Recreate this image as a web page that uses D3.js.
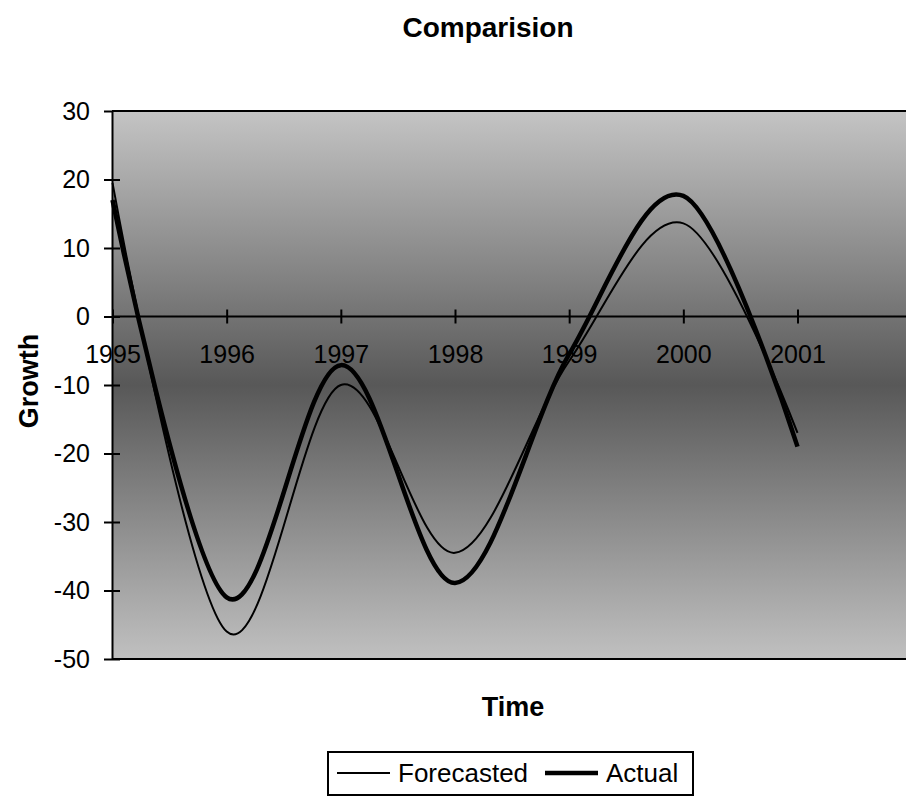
<!DOCTYPE html>
<html>
<head>
<meta charset="utf-8">
<script src="https://d3js.org/d3.v7.min.js"></script>
<style>
  body { margin: 0; background: #fff; }
  svg { display: block; font-family: "Liberation Sans", Arial, sans-serif; }
  .axis .domain { stroke: #000; stroke-width: 2px; }
  .axis line { stroke: #000; stroke-width: 2px; }
  .axis text { font-size: 25px; fill: #000; }
</style>
</head>
<body>
<script>
// values
const years = ["1995", "1996", "1997", "1998", "1999", "2000", "2001"];
const forecasted = [19.5, -46, -10, -34.5, -6.5, 13.6, -17];
const actual = [17, -41, -7.1, -38.9, -5.5, 17.6, -19];
const yTicks = [-50, -40, -30, -20, -10, 0, 10, 20, 30];

const width = 906, height = 796;
const plot = {left: 112, top: 111, right: 906, bottom: 659};

const svg = d3.select("body").append("svg")
    .attr("width", width)
    .attr("height", height);

const x = d3.scalePoint()
    .domain(years)
    .range([112.5, 797.5]);

const y = d3.scaleLinear()
    .domain([-50, 30])
    .range([plot.bottom, plot.top]);

// background gradient
const grad = svg.append("defs").append("linearGradient")
    .attr("id", "bg")
    .attr("x1", 0).attr("y1", 0).attr("x2", 0).attr("y2", 1);
grad.append("stop").attr("offset", "0%").attr("stop-color", "#c4c4c4");
grad.append("stop").attr("offset", "50%").attr("stop-color", "#585858");
grad.append("stop").attr("offset", "100%").attr("stop-color", "#c0c0c0");

svg.append("rect")
    .attr("x", plot.left)
    .attr("y", plot.top)
    .attr("width", plot.right - plot.left)
    .attr("height", plot.bottom - plot.top)
    .attr("fill", "url(#bg)");

// top and bottom border of plot area
svg.append("line")
    .attr("x1", plot.left).attr("x2", plot.right)
    .attr("y1", plot.top).attr("y2", plot.top)
    .attr("stroke", "#000").attr("stroke-width", 2);
svg.append("line")
    .attr("x1", plot.left).attr("x2", plot.right)
    .attr("y1", plot.bottom).attr("y2", plot.bottom)
    .attr("stroke", "#000").attr("stroke-width", 2);

// y axis
const yAxis = svg.append("g")
    .attr("class", "axis y")
    .attr("transform", `translate(${plot.left},0)`)
    .call(d3.axisLeft(y).tickValues(yTicks).tickSize(8).tickPadding(14)
      .tickSizeOuter(0).tickFormat(d => String(d)));
yAxis.selectAll(".tick line").attr("x2", -8).attr("x1", 8);
yAxis.selectAll(".tick").filter(d => d === 30).select("line").attr("x1", 0);

// x axis across zero
const xAxis = svg.append("g")
    .attr("class", "axis x")
    .attr("transform", `translate(0,${y(0)})`)
    .call(d3.axisBottom(x).tickSize(7).tickSizeOuter(0));
xAxis.select(".domain").attr("d", `M${plot.left},0H${plot.right}`);
xAxis.selectAll(".tick line").attr("y1", -7).attr("y2", 7);
xAxis.selectAll(".tick text").attr("y", 38).attr("dy", "0.35em");

// lines
const line = d3.line()
    .x((d, i) => x(years[i]))
    .y(d => y(d))
    .curve(d3.curveCardinal.tension(0));

svg.append("path")
    .datum(forecasted)
    .attr("fill", "none")
    .attr("stroke", "#000")
    .attr("stroke-width", 2)
    .attr("d", line);

svg.append("path")
    .datum(actual)
    .attr("fill", "none")
    .attr("stroke", "#000")
    .attr("stroke-width", 4.5)
    .attr("d", line);

// titles
svg.append("text")
    .attr("x", 488).attr("y", 37)
    .attr("text-anchor", "middle")
    .attr("font-size", 28).attr("font-weight", "bold")
    .text("Comparision");

svg.append("text")
    .attr("x", 513).attr("y", 716)
    .attr("text-anchor", "middle")
    .attr("font-size", 27).attr("font-weight", "bold")
    .text("Time");

svg.append("text")
    .attr("transform", "translate(38,381) rotate(-90)")
    .attr("text-anchor", "middle")
    .attr("font-size", 27).attr("font-weight", "bold")
    .text("Growth");

// legend
const legend = svg.append("g");
legend.append("rect")
    .attr("x", 328).attr("y", 752)
    .attr("width", 365).attr("height", 43)
    .attr("fill", "#fff").attr("stroke", "#000").attr("stroke-width", 2);

const items = [
  {name: "Forecasted", w: 2, x0: 337},
  {name: "Actual", w: 4.5, x0: 545}
];
items.forEach(it => {
  legend.append("line")
      .attr("x1", it.x0).attr("x2", it.x0 + 53)
      .attr("y1", 773).attr("y2", 773)
      .attr("stroke", "#000").attr("stroke-width", it.w);
  legend.append("text")
      .attr("x", it.x0 + 61).attr("y", 782)
      .attr("font-size", 26)
      .text(it.name);
});
</script>
</body>
</html>
